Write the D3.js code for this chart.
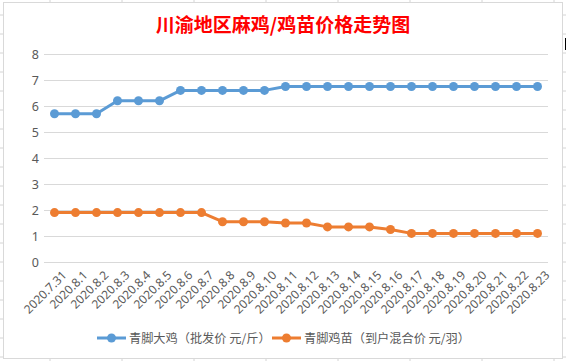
<!DOCTYPE html>
<html>
<head>
<meta charset="utf-8">
<script src="https://cdn.jsdelivr.net/npm/d3@7"></script>
<style>
  body { margin: 0; background: #fff; }
  svg { display: block; }
  text { font-family: "Noto Sans", "Noto Sans CJK SC", sans-serif; }
</style>
</head>
<body>
<svg id="chart" width="566" height="361"></svg>
<script>
const dates = ["2020.7.31", "2020.8.1", "2020.8.2", "2020.8.3", "2020.8.4", "2020.8.5",
  "2020.8.6", "2020.8.7", "2020.8.8", "2020.8.9", "2020.8.10", "2020.8.11", "2020.8.12",
  "2020.8.13", "2020.8.14", "2020.8.15", "2020.8.16", "2020.8.17", "2020.8.18",
  "2020.8.19", "2020.8.20", "2020.8.21", "2020.8.22", "2020.8.23"];

// 青脚大鸡 批发价 元/斤
const bigChicken = [5.7, 5.7, 5.7, 6.2, 6.2, 6.2, 6.6, 6.6, 6.6, 6.6, 6.6, 6.75,
  6.75, 6.75, 6.75, 6.75, 6.75, 6.75, 6.75, 6.75, 6.75, 6.75, 6.75, 6.75];

// 青脚鸡苗 到户混合价 元/羽
const chick = [1.9, 1.9, 1.9, 1.9, 1.9, 1.9, 1.9, 1.9, 1.55, 1.55, 1.55, 1.5,
  1.5, 1.35, 1.35, 1.35, 1.25, 1.1, 1.1, 1.1, 1.1, 1.1, 1.1, 1.1];

const yTicks = [0, 1, 2, 3, 4, 5, 6, 7, 8];

const series = [
  {name: "青脚大鸡（批发价 元/斤）", values: bigChicken, color: "#5b9bd5"},
  {name: "青脚鸡苗（到户混合价 元/羽）", values: chick, color: "#ed7d31"},
];

const svg = d3.select("#chart");

// spreadsheet grid stubs behind the chart box
const sheetGrid = "#d4d4d4";
d3.range(15, 361, 19).forEach(y => {
  svg.append("line").attr("x1", 0).attr("x2", 3).attr("y1", y).attr("y2", y).attr("stroke", sheetGrid);
  svg.append("line").attr("x1", 563).attr("x2", 566).attr("y1", y).attr("y2", y).attr("stroke", sheetGrid);
});
d3.range(50, 566, 72).forEach(x => {
  svg.append("line").attr("x1", x).attr("x2", x).attr("y1", 0).attr("y2", 2.5).attr("stroke", sheetGrid);
  svg.append("line").attr("x1", x).attr("x2", x).attr("y1", 359).attr("y2", 361).attr("stroke", sheetGrid);
});
svg.append("rect").attr("x", 565).attr("y", 38).attr("width", 2).attr("height", 12).attr("fill", "#000");

// chart box
svg.append("rect")
  .attr("x", 3.5).attr("y", 2.5)
  .attr("width", 559).attr("height", 356)
  .attr("fill", "#fff")
  .attr("stroke", "#d9d9d9");

svg.append("text")
  .attr("x", 283).attr("y", 32)
  .attr("text-anchor", "middle")
  .style("font-family", "'Noto Sans CJK SC', serif")
  .style("font-weight", "bold")
  .style("font-size", "19px")
  .attr("fill", "#ff0000")
  .text("川渝地区麻鸡/鸡苗价格走势图");

const x = d3.scaleBand().domain(dates).range([44, 548]);
const y = d3.scaleLinear().domain([0, 8]).range([262, 54]);

// gridlines
svg.append("g")
  .selectAll("line")
  .data(yTicks)
  .join("line")
  .attr("x1", 44).attr("x2", 548)
  .attr("y1", d => Math.round(y(d)) + 0.5)
  .attr("y2", d => Math.round(y(d)) + 0.5)
  .attr("stroke", "#d9d9d9");

// y labels
svg.append("g")
  .selectAll("text")
  .data(yTicks)
  .join("text")
  .attr("x", 39)
  .attr("y", d => y(d) + 4.5)
  .attr("text-anchor", "end")
  .style("font-size", "12.5px")
  .attr("fill", "#595959")
  .text(d => d);

// x labels
const cx = d => x(d) + x.bandwidth() / 2;
svg.append("g")
  .selectAll("text")
  .data(dates)
  .join("text")
  .attr("transform", d => `translate(${cx(d) + 7},${270}) rotate(-45)`)
  .attr("text-anchor", "end")
  .attr("dy", "0.7em")
  .style("font-size", "12px")
  .attr("fill", "#595959")
  .text(d => d);

const line = d3.line()
  .x((d, i) => cx(dates[i]))
  .y(d => y(d));

series.forEach(s => {
  svg.append("path")
    .datum(s.values)
    .attr("d", line)
    .attr("fill", "none")
    .attr("stroke", s.color)
    .attr("stroke-width", 3)
    .attr("stroke-linejoin", "round");
  svg.append("g")
    .selectAll("circle")
    .data(s.values)
    .join("circle")
    .attr("cx", (d, i) => cx(dates[i]))
    .attr("cy", d => y(d))
    .attr("r", 4.5)
    .attr("fill", s.color);
});

// legend
const legendX = [97, 272];
series.forEach((s, i) => {
  const g = svg.append("g").attr("transform", `translate(${legendX[i]},338)`);
  g.append("line").attr("x1", 0).attr("x2", 29).attr("y1", 0).attr("y2", 0)
    .attr("stroke", s.color).attr("stroke-width", 3);
  g.append("circle").attr("cx", 14.5).attr("cy", 0).attr("r", 4.5).attr("fill", s.color);
  g.append("text").attr("x", 32).attr("y", 4.5)
    .style("font-family", "'Noto Sans CJK SC', sans-serif")
    .style("font-size", "12.2px")
    .attr("fill", "#595959")
    .text(s.name);
});
</script>
</body>
</html>
